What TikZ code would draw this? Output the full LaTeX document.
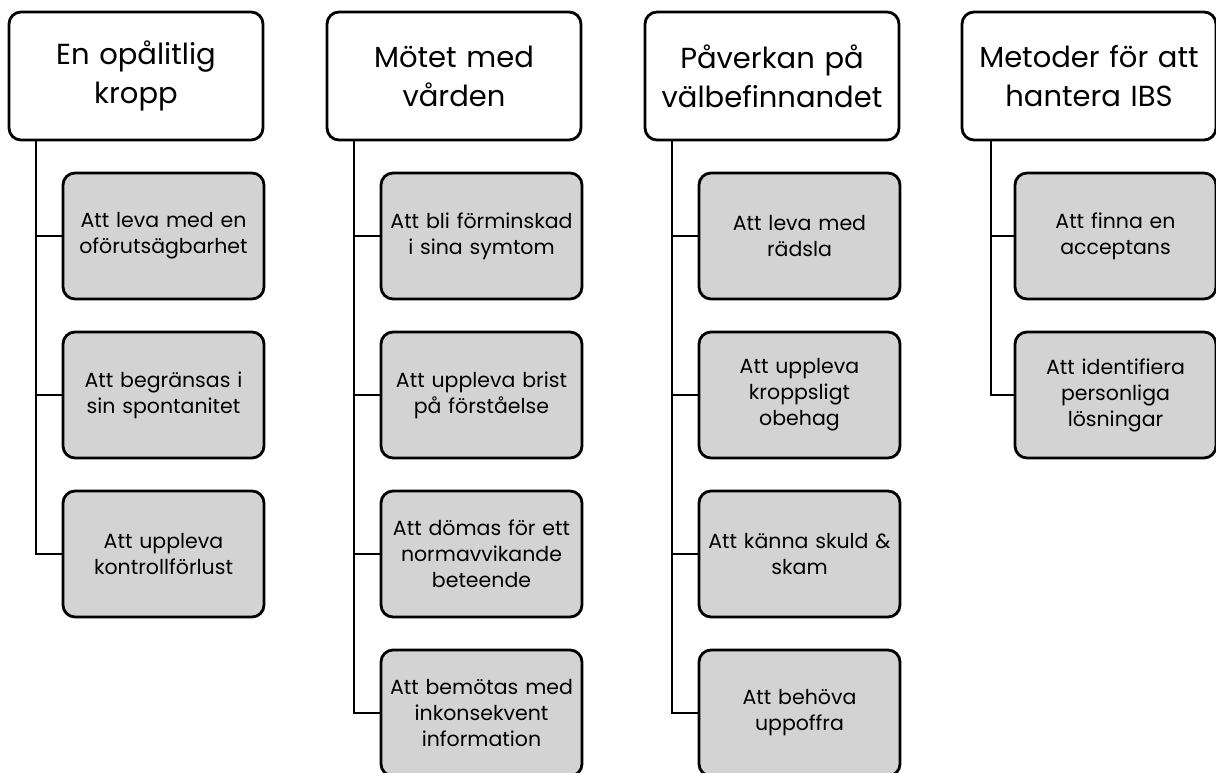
\documentclass[tikz,border=0pt]{standalone}
\usepackage{fontspec}
\setmainfont{Poppins}
\definecolor{boxgray}{RGB}{211,211,211}
\tikzset{
  headbox/.style={draw=black, line width=2.8pt, rounded corners=12pt, fill=white,
    minimum width=254pt, minimum height=128pt, align=center, text width=250pt,
    font=\fontsize{29}{39}\selectfont, inner sep=0pt},
  subbox/.style={draw=black, line width=2.8pt, rounded corners=12pt, fill=boxgray,
    minimum width=201pt, minimum height=126pt, align=center, text width=198pt,
    font=\fontsize{20.5}{26}\selectfont, inner sep=0pt},
  conn/.style={draw=black, line width=2.8pt}
}
\begin{document}
\begin{tikzpicture}[x=1pt,y=-1pt]
\useasboundingbox (0,0) rectangle (1216,772);
% headers
\node[headbox] (h1) at (136,76) {En opålitlig\\kropp};
\node[headbox] (h2) at (454,76) {Mötet med\\vården};
\node[headbox] (h3) at (772,76) {Påverkan på\\välbefinnandet};
\node[headbox] (h4) at (1089,76) {Metoder för att\\hantera IBS};
% trunk coordinates
\coordinate (t1) at (36,140);
\coordinate (t2) at (354,140);
\coordinate (t3) at (672,140);
\coordinate (t4) at (991,140);
% children column 1
\node[subbox] (c11) at (163.5,236) {Att leva med en\\oförutsägbarhet};
\node[subbox] (c12) at (163.5,395) {Att begränsas i\\sin spontanitet};
\node[subbox] (c13) at (163.5,554) {Att uppleva\\kontrollförlust};
% column 2
\node[subbox] (c21) at (481.5,236) {Att bli förminskad\\i sina symtom};
\node[subbox] (c22) at (481.5,395) {Att uppleva brist\\på förståelse};
\node[subbox] (c23) at (481.5,554) {Att dömas för ett\\normavvikande\\beteende};
\node[subbox] (c24) at (481.5,713) {Att bemötas med\\inkonsekvent\\information};
% column 3
\node[subbox] (c31) at (799.5,236) {Att leva med\\rädsla};
\node[subbox] (c32) at (799.5,395) {Att uppleva\\kroppsligt\\obehag};
\node[subbox] (c33) at (799.5,554) {Att känna skuld \&\\skam};
\node[subbox] (c34) at (799.5,713) {Att behöva\\uppoffra};
% column 4
\node[subbox] (c41) at (1115.5,236) {Att finna en\\acceptans};
\node[subbox] (c42) at (1115.5,395) {Att identifiera\\personliga\\lösningar};
% connectors
\foreach \c/\k in {1/1,1/2,1/3,2/1,2/2,2/3,2/4,3/1,3/2,3/3,3/4,4/1,4/2}{
  \draw[conn] (t\c) |- (c\c\k.west);
}
\end{tikzpicture}
\end{document}
